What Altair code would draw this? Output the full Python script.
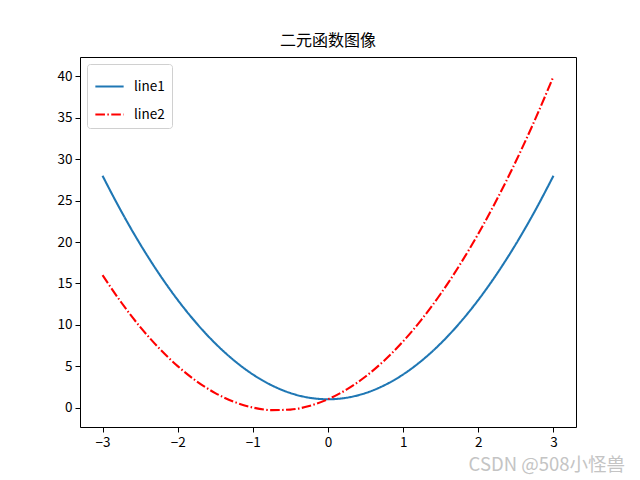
import altair as alt
import pandas as pd

xs = [-3.0, -2.75, -2.5, -2.25, -2.0, -1.75, -1.5, -1.25, -1.0, -0.75, -0.5, -0.25, 0.0,
      0.25, 0.5, 0.75, 1.0, 1.25, 1.5, 1.75, 2.0, 2.25, 2.5, 2.75, 3.0]
line1 = [28.0, 23.69, 19.75, 16.19, 13.0, 10.19, 7.75, 5.69, 4.0, 2.69, 1.75, 1.19, 1.0,
         1.19, 1.75, 2.69, 4.0, 5.69, 7.75, 10.19, 13.0, 16.19, 19.75, 23.69, 28.0]
line2 = [16.0, 12.69, 9.75, 7.19, 5.0, 3.19, 1.75, 0.69, 0.0, -0.31, -0.25, 0.19, 1.0,
         2.19, 3.75, 5.69, 8.0, 10.69, 13.75, 17.19, 21.0, 25.19, 29.75, 34.69, 40.0]
series = ["line1", "line2"]
x_ticks = [-3, -2, -1, 0, 1, 2, 3]
y_ticks = [0, 5, 10, 15, 20, 25, 30, 35, 40]
title = "二元函数图像"
watermark = "CSDN @508小怪兽"

rows = []
for name, vals in zip(series, [line1, line2]):
    for x, y in zip(xs, vals):
        rows.append({"x": x, "y": y, "series": name})
df = pd.DataFrame(rows)

FONT = "Noto Sans CJK SC"
xscale = alt.Scale(domain=[-3.3, 3.3], nice=False, zero=False)
yscale = alt.Scale(domain=[-2.35, 42.35], nice=False, zero=False)

lines = alt.Chart(df).mark_line(strokeWidth=2.1, interpolate="monotone", clip=True).encode(
    x=alt.X("x:Q", scale=xscale,
            axis=alt.Axis(values=x_ticks, title=None, grid=False, tickSize=5, tickWidth=1,
                          tickColor="black", domainColor="black", domainWidth=1,
                          labelFontSize=13.5, labelColor="black", labelFont=FONT, labelPadding=3,
                          labelFlush=False)),
    y=alt.Y("y:Q", scale=yscale,
            axis=alt.Axis(values=y_ticks, title=None, grid=False, tickSize=5, tickWidth=1,
                          tickColor="black", domainColor="black", domainWidth=1,
                          labelFontSize=13.5, labelColor="black", labelFont=FONT, labelPadding=3)),
    color=alt.Color("series:N", scale=alt.Scale(domain=series, range=["#1f77b4", "#ff0000"]),
                    legend=alt.Legend(title=None, orient="none", legendX=7, legendY=7,
                                      symbolType="stroke", symbolSize=800, symbolStrokeWidth=2.1,
                                      labelFontSize=13.5, labelFont=FONT, labelColor="black",
                                      strokeColor="#d0d0d0", fillColor="white", padding=7,
                                      cornerRadius=3, rowPadding=6, labelOffset=9)),
    strokeDash=alt.StrokeDash("series:N",
                              scale=alt.Scale(domain=series, range=[[1, 0], [9.6, 2.4, 1.5, 2.4]]),
                              legend=None),
)

frame = alt.Chart(df).mark_point(opacity=0).encode(
    x=alt.X("x:Q", scale=xscale,
            axis=alt.Axis(orient="top", labels=False, ticks=False, title=None, grid=False,
                          domainColor="black", domainWidth=1)),
    y=alt.Y("y:Q", scale=yscale,
            axis=alt.Axis(orient="right", labels=False, ticks=False, title=None, grid=False,
                          domainColor="black", domainWidth=1)),
)

wm = alt.Chart(pd.DataFrame({"t": [watermark]})).mark_text(
    align="right", baseline="middle", fontSize=18.5, font=FONT, color="#c4c4c4"
).encode(text="t:N", x=alt.value(545), y=alt.value(408))

chart = alt.layer(lines, frame, wm).resolve_axis(x="independent", y="independent").properties(
    width=496, height=370,
    title=alt.Title(title, fontSize=16, font=FONT, fontWeight="normal", color="black", offset=8),
    autosize=alt.AutoSizeParams(type="none"),
    padding={"left": 80, "top": 57, "right": 64, "bottom": 53},
).configure_view(stroke=None).configure(background="white")

chart.save("out.html", embed_options={"renderer": "svg", "actions": False})
